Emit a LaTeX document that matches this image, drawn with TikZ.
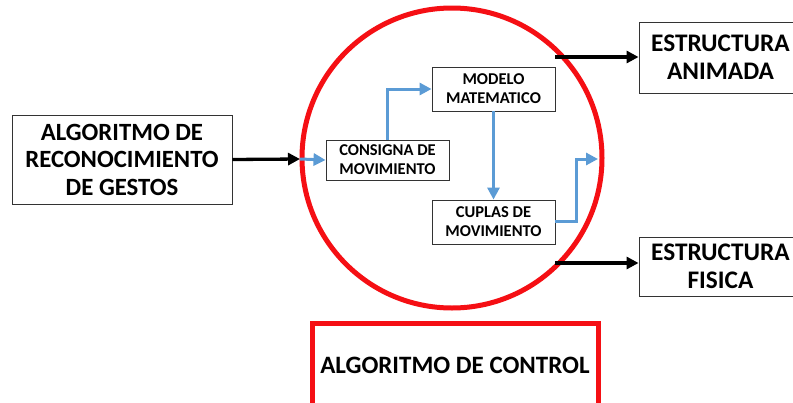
\documentclass[tikz,border=0pt]{standalone}
\usepackage{fontspec}
\setmainfont{Carlito}
\usetikzlibrary{arrows.meta}
\definecolor{obl}{RGB}{91,155,213}
\definecolor{rd}{RGB}{245,15,20}
\tikzset{
  box/.style={draw=black!80, line width=0.9pt, fill=white, align=center, inner sep=0pt, font=\bfseries},
  bigtxt/.style={font=\fontsize{24.8}{27.5}\selectfont\bfseries},
  smalltxt/.style={font=\fontsize{16.5}{19}\selectfont\bfseries},
  blk/.style={line width=3.3pt, -{Triangle[length=12pt,width=12pt]}},
  blu/.style={draw=obl, line width=3pt, -{Triangle[length=12pt,width=12pt]}},
}
\begin{document}
\begin{tikzpicture}[x=1pt,y=-1pt]
\useasboundingbox[fill=white] (0,0) rectangle (793,402);
% circle
\node[circle, draw=rd, line width=5pt, minimum size=300pt, inner sep=0pt, outer sep=0pt] (C) at (452,158) {};
% boxes
\node[box, bigtxt, minimum width=220pt, minimum height=89pt] (L) at (122,159.5) {ALGORITMO DE\\RECONOCIMIENTO\\DE GESTOS};
\node[box, smalltxt, minimum width=123pt, minimum height=40pt] (cons) at (387.5,160) {CONSIGNA DE\\MOVIMIENTO};
\node[box, smalltxt, minimum width=123pt, minimum height=44pt] (mod) at (493.5,89) {MODELO\\MATEMATICO};
\node[box, smalltxt, minimum width=123pt, minimum height=44pt] (cup) at (493.5,222) {CUPLAS DE\\MOVIMIENTO};
\node[box, font=\fontsize{25.3}{28}\selectfont\bfseries, minimum width=163pt, minimum height=71pt] (anim) at (720.5,57.5) {ESTRUCTURA\\ANIMADA};
\node[box, font=\fontsize{25.3}{28}\selectfont\bfseries, minimum width=163pt, minimum height=59pt] (fis) at (720.5,266.5) {ESTRUCTURA\\FISICA};
\node[draw=rd, line width=5pt, fill=white, inner sep=0pt, font=\fontsize{25}{28}\selectfont\bfseries, minimum width=286pt, minimum height=84pt] (ctl) at (455,365) {ALGORITMO DE CONTROL};
% coordinates on circle
\coordinate (cin) at (300,159);
\coordinate (cout) at (598,159);
\coordinate (ta) at (555,57);
\coordinate (tb) at (555,263);
% connectors
\draw[blk] (L.east) -- (cin);
\draw[blu] (cin) -- (cons.west);
\draw[blu] (cons.north -| 387,0) |- (mod.west);
\draw[blu] (mod.south) -- (cup.north);
\draw[blu] (cup.east |- 0,221) -| (576,159) -- (cout);
\draw[blk] (ta) -- (ta -| anim.west);
\draw[blk] (tb) -- (tb -| fis.west);
\end{tikzpicture}
\end{document}
